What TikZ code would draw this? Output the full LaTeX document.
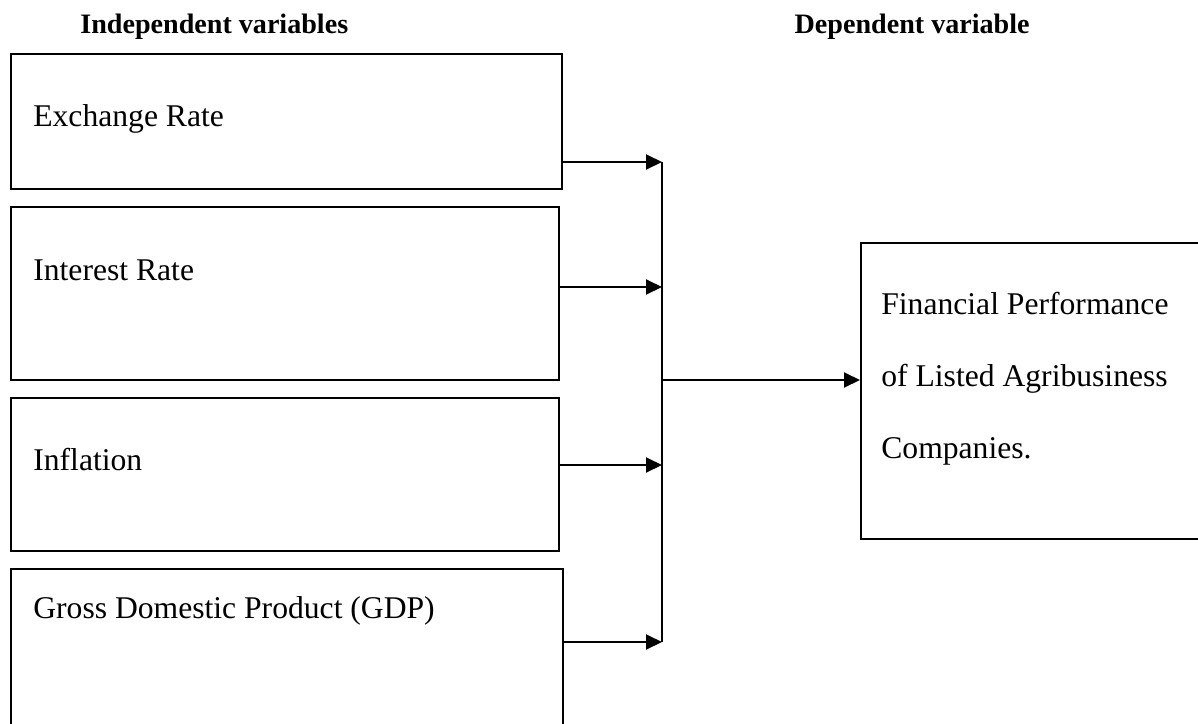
\documentclass[tikz,border=0pt]{standalone}
\usepackage{fontspec}
\setmainfont{Liberation Serif}
\usetikzlibrary{arrows.meta, positioning}
\tikzset{
    varbox/.style={draw, line width=1.1pt, inner sep=0pt, anchor=north west},
    vartext/.style={inner sep=0pt, anchor=base west, font=\fontsize{18}{22}\selectfont},
    heading/.style={inner sep=0pt, font=\bfseries\fontsize{16}{20}\selectfont},
    bus/.style={line width=1.1pt},
    flow/.style={line width=1.1pt, -{Triangle[length=0.32cm, width=0.30cm]}},
}

\begin{document}
\begin{tikzpicture}[x=0.02cm, y=-0.02cm]
    \clip (0,0) rectangle (1198,724);
    % headings
    \node[heading, anchor=base west] (indep) at (80,33) {Independent variables};
    \node[heading, anchor=base east] (dep) at (1030,33) {Dependent variable};

    % independent variables
    \node[varbox, minimum width=11.02cm, minimum height=2.70cm] (exch) at (10,53) {};
    \node[varbox, minimum width=10.96cm, minimum height=3.46cm] (inter) at (10,206) {};
    \node[varbox, minimum width=10.96cm, minimum height=3.06cm] (infl) at (10,397) {};
    \node[varbox, minimum width=11.04cm, minimum height=3.60cm] (gdp) at (10,568) {};
    \node[vartext] (exchtext) at (33,126) {Exchange Rate};
    \node[vartext] (intertext) at (33,280) {Interest Rate};
    \node[vartext] (infltext) at (33,470) {Inflation};
    \node[vartext] (gdptext) at (33,618) {Gross Domestic Product (GDP)};

    % dependent variable
    \node[varbox, minimum width=7.20cm, minimum height=5.92cm] (perf) at (860,242) {};
    \node[vartext, align=left, font=\fontsize{18}{40.8}\selectfont] (perftext) at (881,458)
        {Financial Performance\\of Listed Agribusiness\\Companies.};

    \coordinate (bustop) at (662,162);
    \coordinate (bus2) at (662,287);
    \coordinate (bus3) at (662,465);
    \coordinate (busbot) at (662,642);
    \coordinate (busmid) at (662,380);

    \draw[bus] (bustop) -- (busbot);
    \draw[flow] (exch.east |- bustop) -- (bustop);
    \draw[flow] (inter.east |- bus2) -- (bus2);
    \draw[flow] (infl.east |- bus3) -- (bus3);
    \draw[flow] (gdp.east |- busbot) -- (busbot);
    \draw[flow] (busmid) -- (perf.west |- busmid);
\end{tikzpicture}
\end{document}
